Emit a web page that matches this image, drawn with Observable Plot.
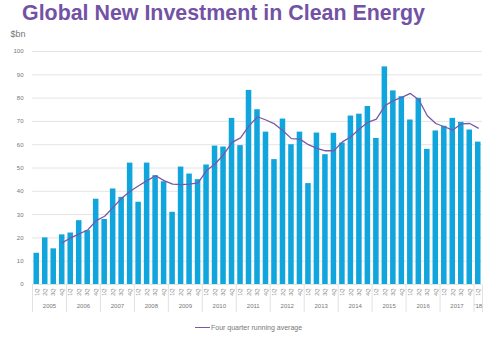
<!DOCTYPE html>
<html><head><meta charset="utf-8">
<script src="https://cdn.jsdelivr.net/npm/d3@7"></script>
<script src="https://cdn.jsdelivr.net/npm/@observablehq/plot@0.6"></script>
<style>
body{margin:0;background:#fff;}
#wrap{position:relative;width:499px;height:340px;overflow:hidden;font-family:"Liberation Sans",Arial,sans-serif;background:#fff;}
#title{position:relative;height:28px;}
#title span{position:absolute;left:22px;top:3px;font-size:21.4px;line-height:1;font-weight:bold;color:#7352a5;white-space:nowrap;}
#chart svg{display:block}
#legend{position:relative;height:25px;}
#legend .item{position:absolute;left:195px;top:7px;height:10px;display:flex;align-items:center;font-size:7px;color:#777;white-space:nowrap;}
#legend .swatch{display:inline-block;width:15px;height:0;border-top:1.4px solid #7a58a6;margin-right:1px;}
</style></head>
<body>
<div id="wrap">
  <div id="title"><span>Global New Investment in Clean Energy</span></div>
  <div id="chart"></div>
  <div id="legend"><div class="item"><span class="swatch"></span><span>Four quarter running average</span></div></div>
</div>
<script>
const years = ["2005","2006","2007","2008","2009","2010","2011","2012","2013","2014","2015","2016","2017","'18"];
const quarters = ["1Q","2Q","3Q","4Q"];
const investment = [
  13.4, 20.0, 15.3, 21.3,
  22.1, 27.4, 23.1, 36.6,
  27.9, 41.0, 37.4, 52.1,
  35.3, 52.1, 46.7, 44.1,
  31.0, 50.4, 47.4, 45.0,
  51.3, 59.4, 59.0, 71.3,
  59.6, 83.3, 75.0, 65.4,
  53.6, 71.0, 60.0, 65.4,
  43.3, 65.0, 55.7, 64.9,
  60.7, 72.3, 73.1, 76.4,
  62.7, 93.4, 83.1, 80.6,
  70.6, 79.9, 58.0, 65.9,
  67.9, 71.3, 69.6, 66.3,
  61.1
];
const runningAverage = [
  null, null, null, 17.9,
  20.0, 21.7, 23.4, 27.4,
  29.3, 33.1, 37.0, 40.0,
  42.4, 44.6, 46.7, 44.6,
  43.1, 42.9, 43.1, 43.6,
  48.9, 51.7, 55.7, 61.0,
  62.9, 68.1, 72.0, 70.6,
  68.9, 66.0, 62.6, 62.4,
  60.0, 58.4, 57.4, 57.4,
  61.2, 63.4, 66.7, 69.6,
  71.0, 76.7, 78.9, 80.3,
  82.0, 79.3, 72.4, 69.1,
  67.7, 66.3, 68.9, 69.1,
  67.1
];
const yTicks = [0,10,20,30,40,50,60,70,80,90,100];

const rows = investment.map((v, i) => {
  const y = years[Math.floor(i / 4)];
  const q = quarters[i % 4];
  return {key: y + " " + q, year: y, q, value: v, avg: runningAverage[i]};
});
const keys = rows.map(d => d.key);
const W = 499, ML = 32, MR = 17;
const step = (W - ML - MR) / keys.length;

const fullYears = years.filter(y => rows.filter(r => r.year === y).length === 4)
  .map(y => ({key: y + " 2Q", label: y}));
const partYears = years.filter(y => rows.filter(r => r.year === y).length === 1)
  .map(y => ({key: y + " 1Q", label: y}));
const yearStarts = years.map(y => y + " 1Q");

const chart = Plot.plot({
  width: W, height: 287,
  marginLeft: ML, marginRight: MR, marginTop: 23, marginBottom: 31,
  style: {fontFamily: "'Liberation Sans', Arial, sans-serif", fontSize: "6px", color: "#777", background: "white"},
  x: {type: "band", domain: keys, round: false, paddingInner: 0.35, paddingOuter: 0.175, axis: null},
  y: {domain: [0, 100], axis: null},
  marks: [
    Plot.gridY(yTicks, {stroke: "#e4e4e4", strokeOpacity: 1}),
    Plot.axisY(yTicks, {tickSize: 0, tickPadding: 9, fontSize: 6, fill: "#777"}),
    Plot.barY(rows, {x: "key", y: "value", fill: "#10a5dc"}),
    Plot.lineY(rows.filter(d => d.avg != null), {x: "key", y: "avg", stroke: "#7a58a6", strokeWidth: 1.3}),
    Plot.text(rows, {x: "key", text: "q", frameAnchor: "bottom", rotate: -90, textAnchor: "end", lineAnchor: "middle", dy: 4, fontSize: 5.5, fill: "#888"}),
    Plot.ruleX(yearStarts, {x: d => d, dx: -step / 2, insetTop: 234, insetBottom: -28, stroke: "#e2e2e2"}),
    Plot.ruleX([keys[keys.length - 1]], {x: d => d, dx: step / 2, insetTop: 234, insetBottom: -28, stroke: "#e2e2e2"}),
    Plot.text(fullYears, {x: "key", text: "label", frameAnchor: "bottom", lineAnchor: "middle", dx: step / 2, dy: 22, fontSize: 6, fill: "#777"}),
    Plot.text(partYears, {x: "key", text: "label", frameAnchor: "bottom", lineAnchor: "middle", dy: 22, fontSize: 6, fill: "#777"}),
    Plot.text(["$bn"], {text: d => d, frameAnchor: "top-left", textAnchor: "start", lineAnchor: "middle", dx: -22, dy: -17, fontSize: 9, fill: "#777"})
  ]
});
document.getElementById("chart").appendChild(chart);
</script>
</body></html>
